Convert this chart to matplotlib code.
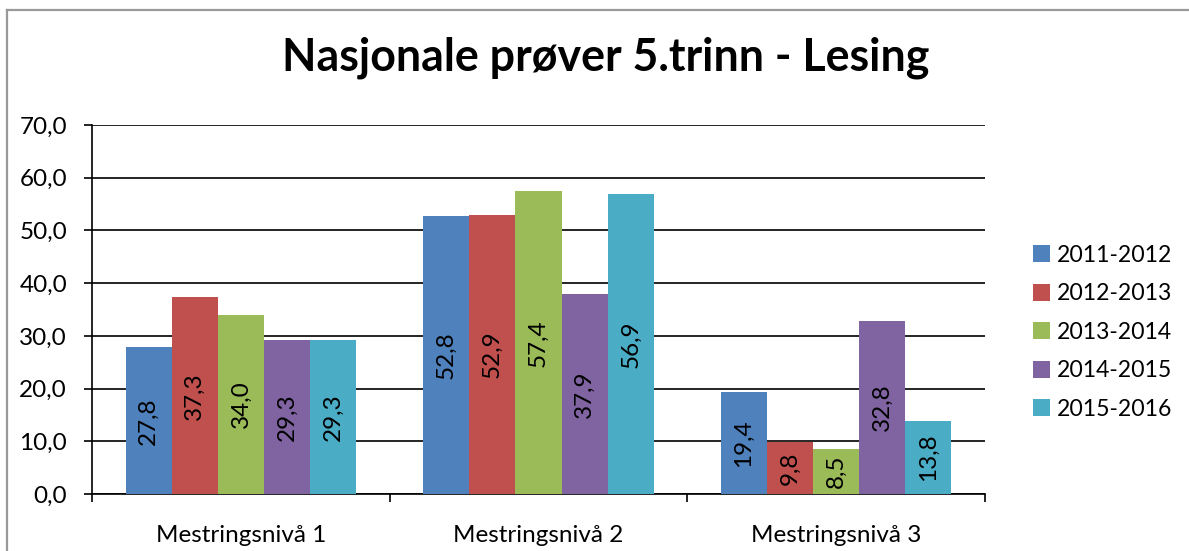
import matplotlib.pyplot as plt
from matplotlib.lines import Line2D
import numpy as np

plt.rcParams['font.family'] = ['Lato', 'DejaVu Sans']

categories = ['Mestringsnivå 1', 'Mestringsnivå 2', 'Mestringsnivå 3']
years = ['2011-2012', '2012-2013', '2013-2014', '2014-2015', '2015-2016']
values = {
    '2011-2012': [27.8, 52.8, 19.4],
    '2012-2013': [37.3, 52.9, 9.8],
    '2013-2014': [34.0, 57.4, 8.5],
    '2014-2015': [29.3, 37.9, 32.8],
    '2015-2016': [29.3, 56.9, 13.8],
}
colors = ['#4F81BD', '#C0504D', '#9BBB59', '#8064A2', '#4BACC6']

fs = 17.5

fig = plt.figure(figsize=(11.89, 5.51), dpi=100)
ax = fig.add_axes([0.0774, 0.1034, 0.7510, 0.6697])

x = np.arange(len(categories))
w = 0.155
for i, yr in enumerate(years):
    pos = x + (i - 2) * w
    bars = ax.bar(pos, values[yr], width=w, color=colors[i], label=yr, zorder=3)
    for b, v in zip(bars, values[yr]):
        ax.text(b.get_x() + b.get_width() / 2, v / 2, f'{v:.1f}'.replace('.', ','),
                rotation=90, ha='center', va='center', fontsize=fs, color='black', zorder=4)

ax.set_xlim(-0.5, 2.5)
ax.set_ylim(0, 70)
ax.set_yticks(np.arange(0, 71, 10))
ax.set_yticklabels([f'{t:.1f}'.replace('.', ',') for t in np.arange(0, 71, 10)], fontsize=fs)
ax.yaxis.grid(True, color='black', linewidth=1.2, zorder=0)
ax.set_axisbelow(True)

ax.set_xticks([-0.5, 0.5, 1.5, 2.5])
ax.set_xticklabels([])
ax.set_xticks(x, minor=True)
ax.set_xticklabels(categories, minor=True, fontsize=fs)
ax.tick_params(axis='x', which='minor', length=0, pad=22)
ax.tick_params(axis='x', which='major', length=6, width=1.2, direction='out')
ax.tick_params(axis='y', length=6, width=1.2, direction='out', pad=12)

for s in ['top', 'right']:
    ax.spines[s].set_visible(False)
for s in ['left', 'bottom']:
    ax.spines[s].set_linewidth(1.2)
    ax.spines[s].set_color('black')

fig.text(0.509, 0.895, 'Nasjonale prøver 5.trinn - Lesing', ha='center', va='center',
         fontsize=32.2, fontweight='bold')

ax.legend(loc='center left', bbox_to_anchor=(0.861, 0.397), bbox_transform=fig.transFigure,
          frameon=False, fontsize=16.6, handlelength=0.74, handleheight=0.74,
          handletextpad=0.3, labelspacing=0.76, borderaxespad=0)

# outer chart frame (partially visible)
fig.add_artist(Line2D([7 / 1189, 7 / 1189], [0, 1 - 10 / 551], transform=fig.transFigure,
                      color='#999999', linewidth=1.6))
fig.add_artist(Line2D([7 / 1189, 1], [1 - 10 / 551, 1 - 10 / 551], transform=fig.transFigure,
                      color='#999999', linewidth=1.6))

fig.savefig('out.png', dpi=100)
